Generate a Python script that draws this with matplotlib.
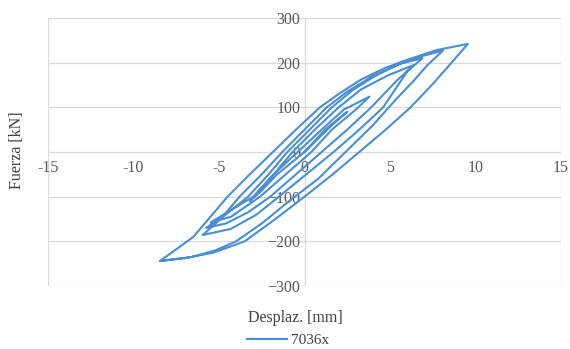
import matplotlib
matplotlib.use("Agg")
import matplotlib.pyplot as plt

# Hysteresis path, branch by branch
disp_mm = [
    0.0, 1.2, 2.5,
    1.6, 0.0, -1.6, -2.6, -3.2,
    -1.8, -0.4, 1.0, 2.3, 3.8,
    3.0, 1.6, 0.4, -1.1, -2.6, -4.3, -5.5,
    -4.3, -3.0, -1.8, -0.7, 0.6, 2.0, 3.3, 4.9, 6.4,
    5.4, 3.9, 2.5, 1.0, -0.5, -2.0, -3.3, -4.6, -5.76,
    -4.6, -3.3, -2.1, -1.0, 0.3, 1.6, 2.8, 4.2, 5.6, 6.9,
    6.0, 4.6, 3.2, 1.7, 0.1, -1.5, -2.8, -4.3, -5.96,
    -4.9, -3.8, -2.5, -1.3, 0.0, 1.3, 2.5, 3.9, 5.5, 6.9, 8.1,
    7.2, 6.4, 5.4, 4.0, 2.4, 0.8, -0.9, -2.5, -4.0, -5.2, -6.6, -8.45,
    -6.5, -4.5, -3.2, -1.85, -0.5, 0.9, 2.0, 3.3, 4.7, 5.9, 7.7, 9.55,
    8.6, 7.45, 6.2, 4.75, 3.2, 1.65, 0.0, -1.7, -3.5, -5.3, -7.0, -8.45,
]
force_kn = [
    0, 50, 90,
    60, 0, -50, -90, -110,
    -50, 0, 50, 95, 124,
    95, 50, 0, -50, -100, -145, -158,
    -130, -100, -50, 0, 50, 100, 140, 172, 195,
    160, 100, 50, 0, -50, -100, -135, -160, -170,
    -140, -100, -50, 0, 50, 100, 138, 172, 198, 210,
    180, 100, 50, 0, -50, -100, -140, -172, -186,
    -150, -100, -50, 0, 50, 100, 135, 168, 196, 215, 227,
    195, 160, 120, 60, 0, -60, -110, -160, -200, -220, -235, -244,
    -190, -100, -50, 0, 50, 100, 130, 162, 188, 205, 228, 242,
    200, 150, 100, 50, 0, -50, -100, -150, -200, -225, -238, -244,
]
series_name = "7036x"
x_ticks = [-15, -10, -5, 0, 5, 10, 15]
y_ticks = [-300, -200, -100, 0, 100, 200, 300]

plt.rcParams['font.family'] = ['Liberation Serif', 'DejaVu Serif']

fig = plt.figure(figsize=(5.70, 3.49), dpi=100)
ax = fig.add_axes([48 / 570, 1 - 286 / 349, 513 / 570, 268 / 349])

grid_col = '#d9d9d9'
ax.set_xlim(-15, 15)
ax.set_ylim(-300, 300)
for y in y_ticks:
    ax.axhline(y, color=grid_col, lw=0.9, zorder=0)
ax.axvline(0, color=grid_col, lw=0.9, zorder=0)
ax.axvline(-15, color=grid_col, lw=0.9, zorder=0)
ax.axvline(15, color=grid_col, lw=0.9, zorder=0)

for s in ax.spines.values():
    s.set_visible(False)
ax.spines['left'].set_position('zero')
ax.spines['bottom'].set_position('zero')

ax.plot(disp_mm, force_kn, color='#4a8fd3', lw=1.5, label=series_name, zorder=3,
        solid_joinstyle='round')

ax.set_xticks(x_ticks)
ax.set_xticklabels([str(v) for v in x_ticks])
ax.set_yticks(y_ticks)
ax.tick_params(length=0, labelsize=11.5, labelcolor='#595959')
ax.tick_params(axis='x', pad=6)
ax.tick_params(axis='y', pad=3)
for lbl in ax.get_yticklabels() + ax.get_xticklabels():
    lbl.set_zorder(2)

fig.text(17 / 570, 1 - 150 / 349, "Fuerza [kN]", rotation=90, ha='center',
         va='center', fontsize=11.5, color='#404040')
fig.text(295 / 570, 1 - 318 / 349, "Desplaz. [mm]", ha='center', va='center',
         fontsize=11.5, color='#404040')

fig.legend(loc='center', bbox_to_anchor=(288 / 570, 1 - 340 / 349), frameon=False,
           fontsize=11, handlelength=2.6, handletextpad=0.3, labelcolor='#404040')

fig.savefig("out.png", dpi=100)
